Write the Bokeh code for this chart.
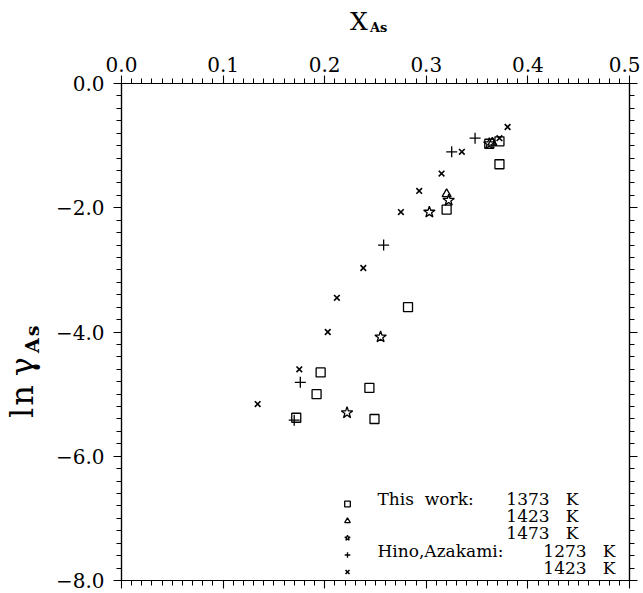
from bokeh.plotting import figure
from bokeh.models import (Range1d, LinearAxis, FixedTicker, Label, Legend, LegendItem, Div)
from bokeh.layouts import column, row
from bokeh.embed import file_html
from bokeh.resources import INLINE

# ---- data ----
# This work, 1373 K (squares)
sq_x = [0.372, 0.362, 0.372, 0.320, 0.282, 0.196, 0.192, 0.172, 0.244, 0.249]
sq_y = [-0.93, -0.97, -1.30, -2.03, -3.60, -4.65, -5.00, -5.38, -4.90, -5.40]
# This work, 1423 K (triangles)
tr_x = [0.365, 0.320]
tr_y = [-0.95, -1.78]
# This work, 1473 K (stars)
st_x = [0.362, 0.322, 0.303, 0.255, 0.222]
st_y = [-0.97, -1.88, -2.07, -4.08, -5.30]
# Hino, Azakami 1273 K (plus)
pl_x = [0.348, 0.325, 0.258, 0.176, 0.170]
pl_y = [-0.88, -1.10, -2.60, -4.81, -5.42]
# Hino, Azakami 1423 K (x)
xx_x = [0.380, 0.372, 0.335, 0.315, 0.293, 0.275, 0.238, 0.212, 0.203, 0.175, 0.134]
xx_y = [-0.70, -0.88, -1.10, -1.45, -1.73, -2.07, -2.97, -3.45, -4.00, -4.60, -5.16]

x_ticks = [0.0, 0.1, 0.2, 0.3, 0.4, 0.5]
y_ticks = [0.0, -2.0, -4.0, -6.0, -8.0]
y_tick_labels = {0.0: "0.0", -2.0: "\u22122.0", -4.0: "\u22124.0", -6.0: "\u22126.0", -8.0: "\u22128.0"}
NB = "\u00a0"
legend_names = ["This" + NB + NB + "work:", "", "", "Hino,Azakami:", ""]
legend_temps = ["1373", "1423", "1473", "1273", "1423"]

FONT = "DejaVu Serif"

p = figure(width=590, height=548, output_backend="svg", toolbar_location=None,
           x_range=Range1d(0.0, 0.5), y_range=Range1d(-8.0, 0.0),
           x_axis_location=None, y_axis_location=None,
           min_border_left=71, min_border_top=37, min_border_right=11, min_border_bottom=14)
p.grid.visible = False
p.outline_line_color = "black"
p.outline_line_width = 1.2
p.background_fill_color = "white"
p.border_fill_color = "white"

def style_axis(ax, labels=True, standoff=3):
    ax.axis_line_width = 1.2
    ax.axis_line_color = "black"
    ax.major_tick_line_width = 1.1
    ax.minor_tick_line_width = 1.0
    ax.major_tick_in = 0
    ax.minor_tick_in = 0
    ax.major_tick_out = 8
    ax.minor_tick_out = 5
    ax.major_label_text_font = FONT
    ax.major_label_text_font_size = "20px"
    ax.major_label_text_line_height = 1.0
    ax.major_label_text_color = "black"
    ax.major_label_standoff = standoff
    if not labels:
        ax.major_label_text_font_size = "0px"

x_minor = [i / 100 for i in range(51)]
y_minor = [-i / 5 for i in range(41)]

top = LinearAxis(ticker=FixedTicker(ticks=x_ticks, minor_ticks=x_minor),
                 major_label_overrides={t: f"{t:.1f}" for t in x_ticks})
style_axis(top, standoff=4)
p.add_layout(top, "above")
bottom = LinearAxis(ticker=FixedTicker(ticks=x_ticks, minor_ticks=x_minor))
style_axis(bottom, labels=False)
p.add_layout(bottom, "below")
left = LinearAxis(ticker=FixedTicker(ticks=y_ticks, minor_ticks=y_minor),
                  major_label_overrides=y_tick_labels)
style_axis(left, standoff=9)
p.add_layout(left, "left")
right = LinearAxis(ticker=FixedTicker(ticks=y_ticks, minor_ticks=y_minor))
style_axis(right, labels=False)
p.add_layout(right, "right")

kw = dict(fill_color=None, line_color="black", line_width=1.3)
r_sq = p.scatter(sq_x, sq_y, marker="square", size=9, **kw)
r_tr = p.scatter(tr_x, tr_y, marker="triangle", size=9, **kw)
r_st = p.scatter(st_x, st_y, marker="star", size=12, **kw)
r_pl = p.scatter(pl_x, pl_y, marker="cross", size=11, **kw)
r_xx = p.scatter(xx_x, xx_y, marker="x", size=8, line_color="black", line_width=1.6)

items = [LegendItem(label=" ", renderers=[r]) for r in (r_sq, r_tr, r_st, r_pl, r_xx)]
legend = Legend(items=items, location=(219, 0), orientation="vertical",
                glyph_width=14, glyph_height=17, label_height=17, label_width=1,
                spacing=0, padding=0, margin=0, label_text_font_size="1px",
                background_fill_alpha=0, border_line_alpha=0)
p.add_layout(legend, "center")

# legend texts
right_edges = [457, 457, 457, 494, 494]
for i, (name, temp) in enumerate(zip(legend_names, legend_temps)):
    yy = 82 - i * 17.4
    if name:
        p.add_layout(Label(x=256, y=yy, x_units="screen", y_units="screen",
                           text=name, text_align="left", text_baseline="middle",
                           text_font=FONT, text_font_size="17px", text_color="black"))
    p.add_layout(Label(x=right_edges[i], y=yy, x_units="screen", y_units="screen",
                       text=temp + NB + NB + NB + "K", text_align="right", text_baseline="middle",
                       text_font=FONT, text_font_size="17px", text_color="black"))

title_html = (
    '<div style="position:absolute;left:345px;top:4px;white-space:nowrap;'
    'font-family:\'DejaVu Serif\';color:black;line-height:25px;font-size:25px">X</div>'
    '<div style="position:absolute;left:365px;top:16px;white-space:nowrap;'
    'font-family:\'DejaVu Serif\';color:black;line-height:13px;font-size:13px;font-weight:bold">As</div>'
)
title_div = Div(text=title_html, width=630, height=36,
                styles={"position": "relative", "overflow": "visible"})

ylab_html = (
    '<div style="position:absolute;left:1px;top:367px;white-space:nowrap;'
    'transform:rotate(-90deg);transform-origin:0 0;'
    'font-family:\'DejaVu Serif\';color:black;line-height:32px;font-size:32px">'
    '<span style="letter-spacing:2px">ln</span><span style="margin-left:7px">\u03b3</span>'
    '<span style="font-size:19px;font-weight:bold;vertical-align:-6px;margin-left:4px;'
    'letter-spacing:2px">As</span></div>'
)
ylab_div = Div(text=ylab_html, width=40, height=548,
               styles={"position": "relative", "overflow": "visible"})

layout = column(title_div, row(ylab_div, p, spacing=0), spacing=0)

open("out.html", "w").write(file_html(layout, INLINE))
